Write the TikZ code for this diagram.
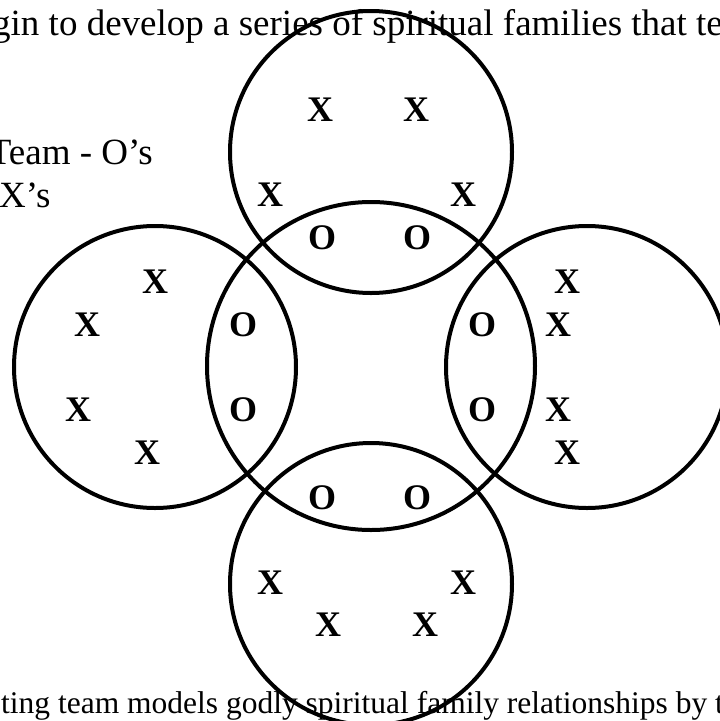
\documentclass[tikz,border=0pt]{standalone}
\usepackage{fontspec}
\setmainfont{Liberation Serif}
\begin{document}
\begin{tikzpicture}[x=1pt,y=-1pt,
    fam/.style={draw,circle,line width=4pt,inner sep=0pt,minimum size=282pt},
    txt/.style={inner sep=0pt,font=\fontsize{37}{44}\selectfont},
    xo/.style={inner sep=0pt,font=\fontsize{36}{43}\selectfont\bfseries}]
          \useasboundingbox (0,0) rectangle (720,721);
          \clip (0,0) rectangle (720,721);

          \node[txt,anchor=base west] (intro) at (-8,35) {gin to develop a series of spiritual families that te};
          \node[txt,anchor=base east] (teamkey) at (153,164) {Team - O's};
          \node[txt,anchor=base west] (famkey) at (-1,207) {X's};
          \node[txt,anchor=base west,font=\fontsize{31.5}{38}\selectfont] (outro) at (1,713) {ting team models godly spiritual family relationships by t};

          \node[fam,minimum size=328pt] (team) at (371,366) {};
          \node[fam] (famn) at (371,152) {};
          \node[fam] (famw) at (155,367) {};
          \node[fam] (fame) at (587,367) {};
          \node[fam] (fams) at (371,584) {};

          \node[xo] (xn1) at (320,110) {X};
          \node[xo] (xn2) at (416,110) {X};
          \node[xo] (xn3) at (270,195) {X};
          \node[xo] (xn4) at (463,195) {X};
          \node[xo] (on1) at (322,238) {O};
          \node[xo] (on2) at (417,238) {O};

          \node[xo] (xw1) at (155,282) {X};
          \node[xo] (xw2) at (87,325) {X};
          \node[xo] (xw3) at (78,410) {X};
          \node[xo] (xw4) at (147,453) {X};
          \node[xo] (ow1) at (243,325) {O};
          \node[xo] (ow2) at (243,410) {O};

          \node[xo] (xe1) at (567,282) {X};
          \node[xo] (xe2) at (558,325) {X};
          \node[xo] (xe3) at (558,410) {X};
          \node[xo] (xe4) at (567,453) {X};
          \node[xo] (oe1) at (482,325) {O};
          \node[xo] (oe2) at (482,410) {O};

          \node[xo] (os1) at (322,498) {O};
          \node[xo] (os2) at (417,498) {O};
          \node[xo] (xs1) at (270,583) {X};
          \node[xo] (xs2) at (463,583) {X};
          \node[xo] (xs3) at (328,625) {X};
          \node[xo] (xs4) at (425,625) {X};
        \end{tikzpicture}
\end{document}
